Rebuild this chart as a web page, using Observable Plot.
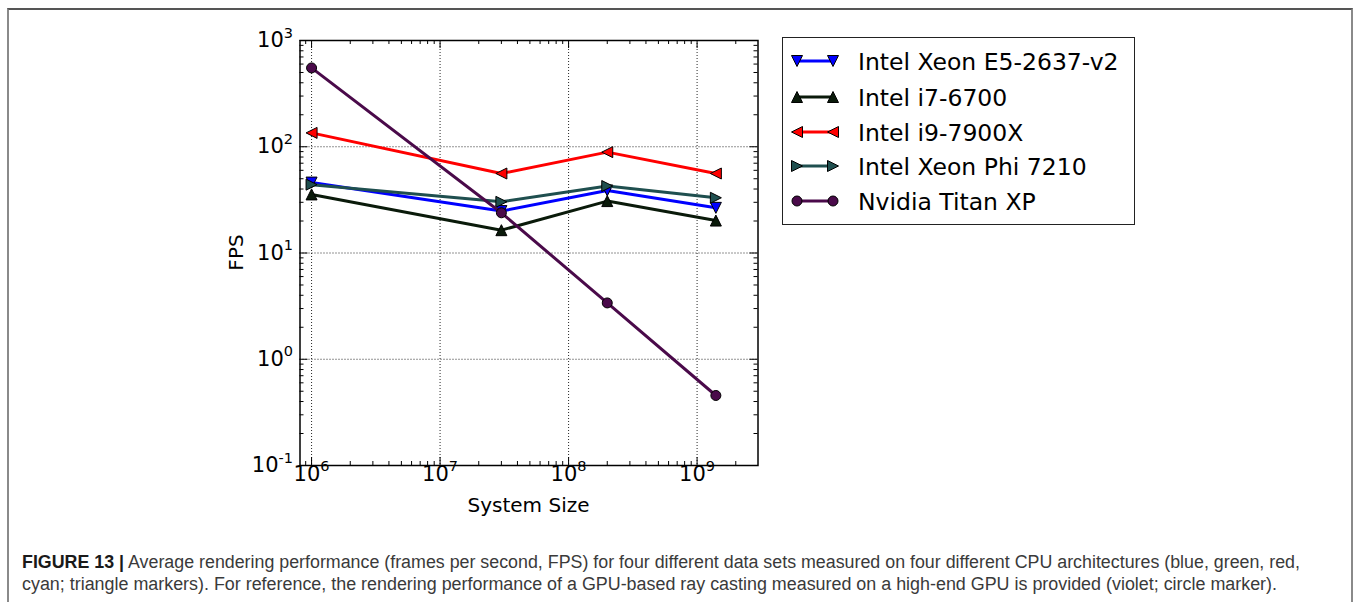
<!DOCTYPE html>
<html><head><meta charset="utf-8">
<script src="https://cdn.jsdelivr.net/npm/d3@7"></script>
<script src="https://cdn.jsdelivr.net/npm/@observablehq/plot@0.6"></script>
<style>
body{margin:0;background:#fff;width:1360px;height:602px;overflow:hidden;position:relative;font-family:"DejaVu Sans",sans-serif;}
#border{position:absolute;left:7px;top:8px;width:1346px;height:600px;border-top:2px solid #555;border-left:2px solid #8a8a8a;border-right:2px solid #8a8a8a;box-sizing:border-box;}
#chart{position:absolute;left:0;top:0;}
.cap{position:absolute;left:22px;white-space:nowrap;font-family:"Liberation Sans Narrow","Liberation Sans",sans-serif;font-size:18px;line-height:22px;color:#3a3a3a;transform-origin:0 50%;}
.cap b{color:#1a1a1a;}
</style></head><body>
<div id="border"></div>
<div id="chart"></div>
<div class="cap" id="cap1" style="top:551px"><b>FIGURE 13 |</b> Average rendering performance (frames per second, FPS) for four different data sets measured on four different CPU architectures (blue, green, red,</div>
<div class="cap" id="cap2" style="top:573px">cyan; triangle markers). For reference, the rendering performance of a GPU-based ray casting measured on a high-end GPU is provided (violet; circle marker).</div>
<script>
// ---- data ----
const systemSizes = [1e6, 3e7, 2e8, 1.4e9];
const seriesNames = ["Intel Xeon E5-2637-v2", "Intel i7-6700", "Intel i9-7900X", "Intel Xeon Phi 7210", "Nvidia Titan XP"];
const xeonE5 = [46, 24.8, 38.8, 26.6];
const i7 = [35.6, 16.4, 30.8, 20.2];
const i9 = [135, 56, 89, 56];
const xeonPhi = [44, 30.3, 42.7, 33.1];
const titanXP = [552, 23.9, 3.39, 0.456];
const seriesColors = ["#0000ff", "#0a1a0a", "#ff0000", "#1f4f4f", "#4a0a4a"];
const xMajorTicks = [1e6, 1e7, 1e8, 1e9];
const yMajorTicks = [0.1, 1, 10, 100, 1000];

// ---- marker symbols ----
function tri(dir) {
  return {draw(ctx, size) {
    const s = Math.sqrt(size / Math.PI);
    if (dir === "up") { ctx.moveTo(0, -s); ctx.lineTo(s, s); ctx.lineTo(-s, s); }
    if (dir === "down") { ctx.moveTo(0, s); ctx.lineTo(s, -s); ctx.lineTo(-s, -s); }
    if (dir === "left") { ctx.moveTo(-s, 0); ctx.lineTo(s, -s); ctx.lineTo(s, s); }
    if (dir === "right") { ctx.moveTo(s, 0); ctx.lineTo(-s, -s); ctx.lineTo(-s, s); }
    ctx.closePath();
  }};
}
const symbols = [tri("down"), tri("up"), tri("left"), tri("right"), "circle"];
const seriesValues = [xeonE5, i7, i9, xeonPhi, titanXP];

const rows = [];
seriesNames.forEach((name, i) => systemSizes.forEach((x, j) => rows.push({series: name, x, y: seriesValues[i][j]})));

// minor ticks
const xDomain = [10 ** 5.91, 10 ** 9.474];
const yDomain = [0.1, 1000];
const minor = (lo, hi) => { const out = []; for (let e = -2; e <= 10; e++) for (let k = 2; k <= 9; k++) { const v = k * 10 ** e; if (v > lo && v < hi) out.push(v); } return out; };
const xMinor = minor(...xDomain), yMinor = minor(...yDomain);

const W = 1360, H = 530, mL = 299.5, mR = 1360 - 757.5, mT = 40, mB = H - 465;
const fw = W - mL - mR, fh = H - mT - mB;
const sup = d => "10^" + Math.round(Math.log10(d));

const marks = [
  Plot.ruleX(xMajorTicks, {x: d => d, stroke: "#000", strokeWidth: 1, strokeDasharray: "1,2", strokeOpacity: 0.85}),
  Plot.ruleY([1, 10, 100], {y: d => d, stroke: "#000", strokeWidth: 1, strokeDasharray: "1,2", strokeOpacity: 0.85}),
  Plot.tickX(xMajorTicks, {x: d => d, insetTop: fh - 8, stroke: "#000"}),
  Plot.tickX(xMajorTicks, {x: d => d, insetBottom: fh - 8, stroke: "#000"}),
  Plot.tickX(xMinor, {x: d => d, insetTop: fh - 4, stroke: "#000"}),
  Plot.tickX(xMinor, {x: d => d, insetBottom: fh - 4, stroke: "#000"}),
  Plot.tickY(yMajorTicks, {y: d => d, insetRight: fw - 8, stroke: "#000"}),
  Plot.tickY(yMajorTicks, {y: d => d, insetLeft: fw - 8, stroke: "#000"}),
  Plot.tickY(yMinor, {y: d => d, insetRight: fw - 4, stroke: "#000"}),
  Plot.tickY(yMinor, {y: d => d, insetLeft: fw - 4, stroke: "#000"}),
  Plot.text(xMajorTicks, {x: d => d, frameAnchor: "bottom", dy: 15, text: sup, fontSize: 21, fill: "#000"}),
  Plot.text(yMajorTicks, {y: d => d, frameAnchor: "left", dx: -7, textAnchor: "end", text: sup, fontSize: 21, fill: "#000"}),
];
seriesNames.forEach((name, i) => {
  const data = rows.filter(r => r.series === name);
  marks.push(Plot.line(data, {x: "x", y: "y", stroke: seriesColors[i], strokeWidth: 3}));
  marks.push(Plot.dot(data, {x: "x", y: "y", symbol: symbols[i], r: i === 4 ? 5 : 5.5, fill: seriesColors[i], stroke: "#000", strokeWidth: 1}));
});
marks.push(Plot.frame({stroke: "#000", strokeWidth: 1.5}));

const chart = Plot.plot({
  width: W, height: H,
  marginLeft: mL, marginRight: mR, marginTop: mT, marginBottom: mB,
  x: {type: "log", domain: xDomain, axis: null},
  y: {type: "log", domain: yDomain, axis: null},
  style: {fontFamily: "DejaVu Sans", background: "transparent", color: "#000", overflow: "visible"},
  marks
});
document.getElementById("chart").appendChild(chart);

const svg = d3.select(chart);
// superscript tick labels
svg.selectAll("text").each(function() {
  const t = this.textContent;
  if (!/^10\^/.test(t)) return;
  const exp = t.split("^")[1];
  const el = d3.select(this); el.text(null);
  el.append("tspan").text("10");
  el.append("tspan").attr("font-size", 14.5).attr("dy", -9.5).text(exp);
});
// axis titles
svg.append("text").attr("x", 528.5).attr("y", 512).attr("text-anchor", "middle").attr("font-size", 20).attr("fill", "#000").text("System Size");
svg.append("text").attr("transform", "translate(243,252.5) rotate(-90)").attr("text-anchor", "middle").attr("font-size", 20).attr("fill", "#000").text("FPS");

// legend
const lg = svg.append("g");
lg.append("rect").attr("x", 782.5).attr("y", 37.5).attr("width", 352).attr("height", 187).attr("fill", "#fff").attr("stroke", "#222").attr("stroke-width", 1);
const rowY = [61, 97, 132, 166, 201];
seriesNames.forEach((name, i) => {
  const y = rowY[i];
  lg.append("line").attr("x1", 797).attr("x2", 833).attr("y1", y).attr("y2", y).attr("stroke", seriesColors[i]).attr("stroke-width", 3);
  const symGen = d3.symbol(symbols[i] === "circle" ? d3.symbolCircle : symbols[i], Math.PI * (i === 4 ? 25 : 30.25));
  [797, 833].forEach(cx => lg.append("path").attr("d", symGen()).attr("transform", `translate(${cx},${y})`).attr("fill", seriesColors[i]).attr("stroke", "#000").attr("stroke-width", 1));
  lg.append("text").attr("x", 858).attr("y", y + 8.5).attr("text-anchor", "start").attr("font-size", 23.5).attr("fill", "#000").text(name);
});

// fit caption lines
[["cap1", 1278], ["cap2", 1255]].forEach(([id, target]) => {
  const el = document.getElementById(id);
  const w = el.getBoundingClientRect().width;
  el.style.transform = `scaleX(${target / w})`;
});
</script>
</body></html>
